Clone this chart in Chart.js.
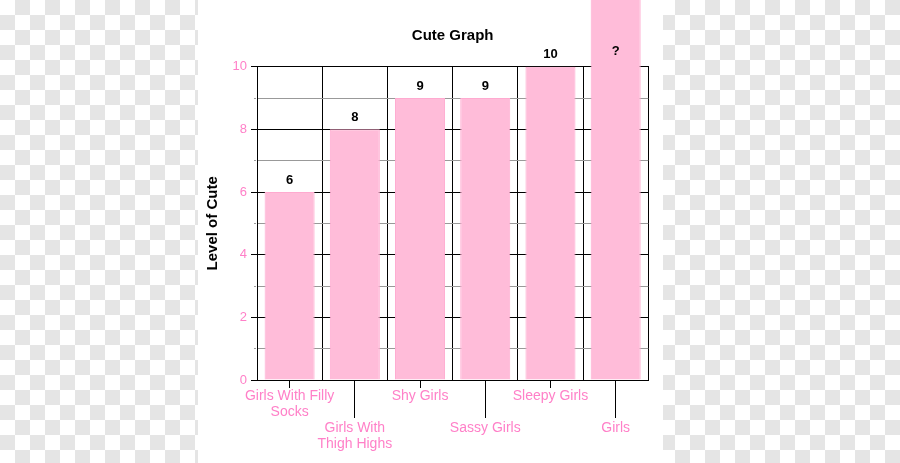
<!DOCTYPE html>
<html>
<head>
<meta charset="utf-8">
<script src="https://cdn.jsdelivr.net/npm/chart.js@4/dist/chart.umd.min.js"></script>
<style>
  html, body { margin: 0; padding: 0; background: #ffffff; }
  #wrap { width: 900px; height: 463px; }
</style>
</head>
<body>
<div id="wrap"><canvas id="c" width="900" height="463"></canvas></div>
<script>
// ---- data ----
const categories = ['Girls With Filly Socks', 'Girls With Thigh Highs', 'Shy Girls', 'Sassy Girls', 'Sleepy Girls', 'Girls'];
const tickLabels = [
  ['Girls With Filly', 'Socks'],
  ['', '', 'Girls With', 'Thigh Highs'],
  ['Shy Girls'],
  ['', '', 'Sassy Girls'],
  ['Sleepy Girls'],
  ['', '', 'Girls']
];
const values = [6, 8, 9, 9, 10, 13];          // last one is off the scale ("?")
const valueLabels = ['6', '8', '9', '9', '10', '?'];
const yMin = 0, yMax = 10, yStep = 1;

const FONT = "'Liberation Sans', Arial, Helvetica, sans-serif";
const PINK_TEXT = '#ff80c8';

// checkerboard "transparent" background outside the white chart panel
const checkerPlugin = {
  id: 'checker',
  beforeDraw(chart) {
    const ctx = chart.ctx, W = chart.width, H = chart.height, s = 15;
    ctx.save();
    ctx.fillStyle = '#ffffff';
    ctx.fillRect(0, 0, W, H);
    ctx.fillStyle = '#e5e5e5';
    const zones = [[0, 198], [663, W]];
    zones.forEach(([x0, x1]) => {
      ctx.save();
      ctx.beginPath();
      ctx.rect(x0, 0, x1 - x0, H);
      ctx.clip();
      for (let r = 0; r * s < H; r++) {
        for (let c = Math.floor(x0 / s); c * s < x1; c++) {
          if ((r + c) % 2 === 1) ctx.fillRect(c * s, r * s, s, s);
        }
      }
      ctx.restore();
    });
    ctx.restore();
  }
};

// value labels above bars
const valueLabelPlugin = {
  id: 'valueLabels',
  afterDatasetsDraw(chart) {
    const ctx = chart.ctx;
    const meta = chart.getDatasetMeta(0);
    ctx.save();
    ctx.font = 'bold 13px ' + FONT;
    ctx.fillStyle = '#000000';
    ctx.textAlign = 'center';
    ctx.textBaseline = 'middle';
    meta.data.forEach((bar, i) => {
      const y = Math.max(bar.y - 12, chart.chartArea.top - 15);
      ctx.fillText(valueLabels[i], bar.x, y);
    });
    ctx.restore();
  }
};

new Chart(document.getElementById('c'), {
  type: 'bar',
  data: {
    labels: categories,
    datasets: [{
      data: values,
      backgroundColor: '#ffbcd9',
      borderColor: '#ffaad0',
      borderWidth: 1,
      barPercentage: 0.767,
      categoryPercentage: 1.0,
      clip: false,
      xAxisID: 'x',
      yAxisID: 'y'
    }]
  },
  options: {
    responsive: false,
    animation: false,
    devicePixelRatio: 1,
    layout: { padding: { left: 198, right: 251.7, top: 0, bottom: 0 } },
    plugins: {
      legend: { display: false },
      title: { display: false },
      tooltip: { enabled: false }
    },
    scales: {
      x: {
        type: 'category',
        position: 'bottom',
        offset: true,
        afterFit(scale) { scale.height = 83; },
        grid: {
          offset: false,
          drawOnChartArea: false,
          drawTicks: true,
          tickLength: 38,
          tickColor: '#000000',
          tickWidth: 1,
          tickBorderDash: (ctx) => (ctx.index % 2 === 0 ? [7, 200] : [])
        },
        border: { display: true, color: '#000000', width: 1 },
        ticks: {
          autoSkip: false,
          maxRotation: 0,
          minRotation: 0,
          padding: -30,
          color: PINK_TEXT,
          font: { family: FONT, size: 14, lineHeight: '16px' },
          callback: (v, i) => tickLabels[i]
        }
      },
      xg: {
        type: 'category',
        position: 'top',
        offset: true,
        afterFit(scale) { scale.height = 66.7; },
        grid: {
          offset: true,
          drawOnChartArea: true,
          drawTicks: false,
          color: '#000000',
          lineWidth: 1
        },
        border: { display: true, color: '#000000', width: 1 },
        ticks: { display: false },
        title: {
          display: true,
          text: 'Cute Graph',
          color: '#000000',
          font: { family: FONT, size: 15, weight: 'bold', lineHeight: 1.2 },
          padding: { top: 27, bottom: 21.7 }
        }
      },
      y: {
        type: 'linear',
        position: 'left',
        min: yMin,
        max: yMax,
        afterFit(scale) { scale.width = 59; },
        grid: {
          color: (ctx) => (ctx.tick && ctx.tick.value % 2 === 0 ? '#000000' : '#999999'),
          lineWidth: 1,
          drawTicks: true,
          tickLength: 6,
          tickColor: (ctx) => (ctx.tick && ctx.tick.value % 2 === 0 ? '#000000' : '#999999'),
          tickBorderDash: (ctx) => (ctx.tick && ctx.tick.value % 2 === 0 ? [] : [0, 3, 2, 100])
        },
        border: { display: true, color: '#000000', width: 1 },
        ticks: {
          stepSize: yStep,
          autoSkip: false,
          padding: 4,
          color: PINK_TEXT,
          font: { family: FONT, size: 13 },
          callback: (v) => (v % 2 === 0 ? String(v) : '')
        },
        title: {
          display: true,
          text: 'Level of Cute',
          color: '#000000',
          font: { family: FONT, size: 15, weight: 'bold', lineHeight: 1.2 },
          padding: { top: 6, bottom: 0 }
        }
      }
    }
  },
  plugins: [checkerPlugin, valueLabelPlugin]
});
</script>
</body>
</html>
